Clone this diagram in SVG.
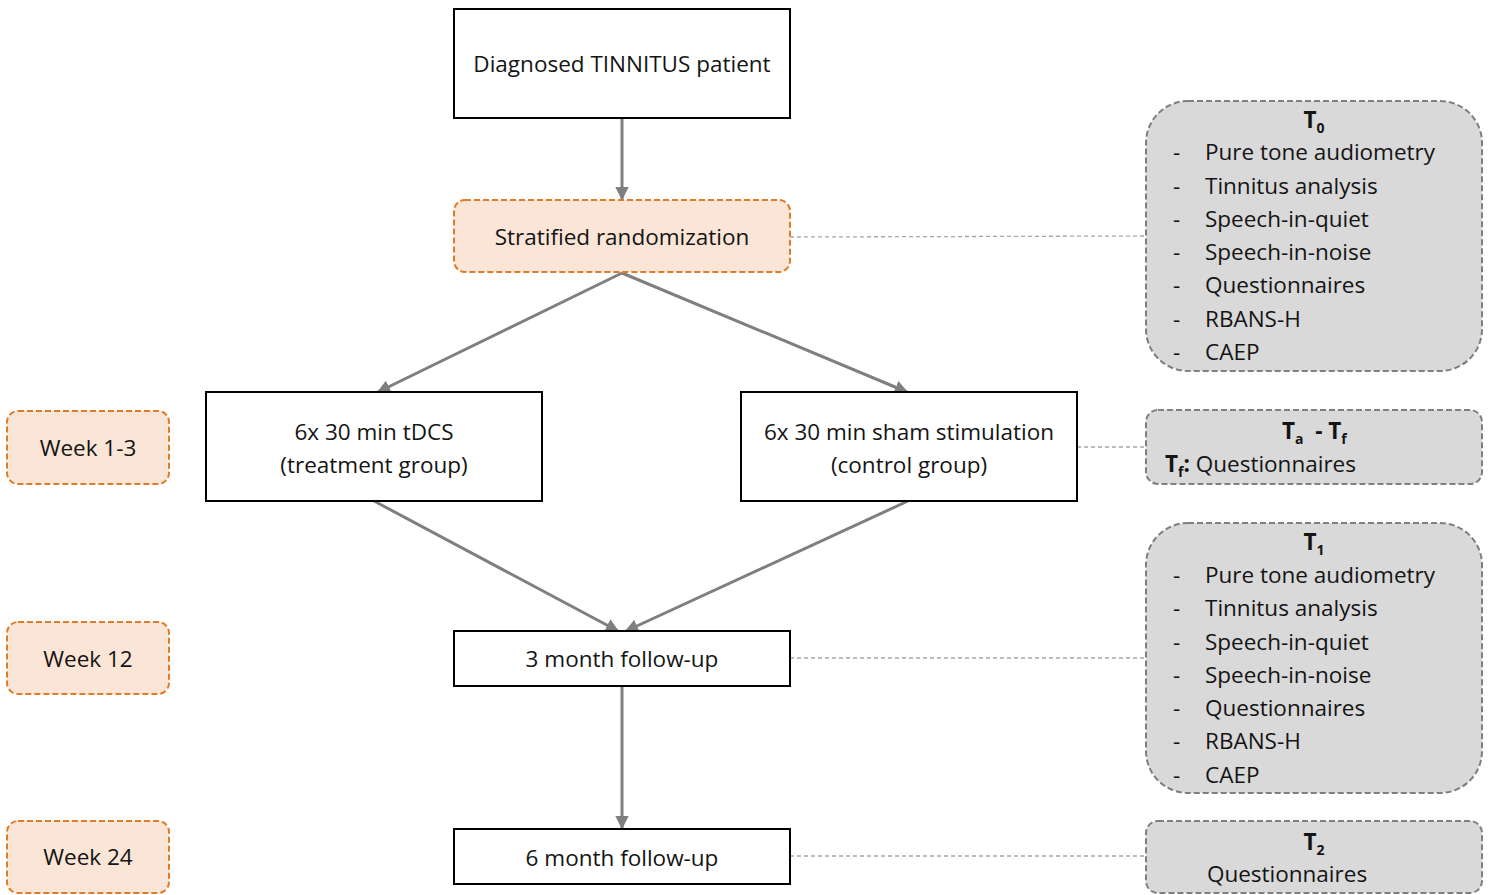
<svg xmlns="http://www.w3.org/2000/svg" width="1494" height="895" viewBox="0 0 1494 895">
<style>
text{font-family:"Open Sans","Noto Sans","Liberation Sans",sans-serif;font-size:22.5px;fill:#141414}
.c{text-anchor:middle}
.b{font-weight:bold}
.box{fill:#fff;stroke:#000;stroke-width:2}
.org{fill:#fbe5d6;stroke:#e07b28;stroke-width:2;stroke-dasharray:6 3}
.gry{fill:#d9d9d9;stroke:#7f7f7f;stroke-width:2;stroke-dasharray:6 3}
.ln{stroke:#7f7f7f;stroke-width:3;fill:none}
.dot{stroke:#a6a6a6;stroke-width:1.3;stroke-dasharray:4 3;fill:none}
</style>
<defs>
<marker id="ah" viewBox="0 0 10 10" refX="9" refY="5" markerWidth="4.5" markerHeight="4.5" orient="auto" markerUnits="strokeWidth">
<path d="M0,0 L10,5 L0,10 z" fill="#7f7f7f"/>
</marker>
</defs>
<g id="connectors">
<line class="ln" x1="622" y1="118" x2="622" y2="199" marker-end="url(#ah)"/>
<line class="ln" x1="622" y1="273" x2="378" y2="392" marker-end="url(#ah)"/>
<line class="ln" x1="622" y1="273" x2="907" y2="392" marker-end="url(#ah)"/>
<line class="ln" x1="374" y1="501" x2="618" y2="631" marker-end="url(#ah)"/>
<line class="ln" x1="908" y1="501" x2="626" y2="631" marker-end="url(#ah)"/>
<line class="ln" x1="622" y1="686" x2="622" y2="828" marker-end="url(#ah)"/>
<line class="dot" x1="790" y1="237" x2="1146" y2="236"/>
<line class="dot" x1="1077" y1="447" x2="1146" y2="447"/>
<line class="dot" x1="790" y1="658" x2="1146" y2="658"/>
<line class="dot" x1="790" y1="856" x2="1146" y2="856"/>
</g>
<g id="diagnosed"><rect class="box" x="454" y="9" width="336" height="109"/><text class="c" x="622" y="72">Diagnosed TINNITUS patient</text></g>
<g id="randomization"><rect class="org" x="454" y="200" width="336" height="72" rx="11"/><text class="c" x="622" y="245">Stratified randomization</text></g>
<g id="tdcs"><rect class="box" x="206" y="392" width="336" height="109"/><text class="c" x="374" y="440">6x 30 min tDCS</text><text class="c" x="374" y="473">(treatment group)</text></g>
<g id="sham"><rect class="box" x="741" y="392" width="336" height="109"/><text class="c" x="909" y="440">6x 30 min sham stimulation</text><text class="c" x="909" y="473">(control group)</text></g>
<g id="fu3"><rect class="box" x="454" y="631" width="336" height="55"/><text class="c" x="622" y="667">3 month follow-up</text></g>
<g id="fu6"><rect class="box" x="454" y="829" width="336" height="55"/><text class="c" x="622" y="866">6 month follow-up</text></g>
<g id="week13"><rect class="org" x="7" y="411" width="162" height="73" rx="11"/><text class="c" x="88" y="456">Week 1-3</text></g>
<g id="week12"><rect class="org" x="7" y="622" width="162" height="72" rx="11"/><text class="c" x="88" y="667">Week 12</text></g>
<g id="week24"><rect class="org" x="7" y="821" width="162" height="72" rx="11"/><text class="c" x="88" y="865">Week 24</text></g>
<g id="t0"><rect class="gry" x="1146" y="101" width="336" height="270" rx="42"/>
<text class="c b" x="1314" y="128">T<tspan font-size="14" dy="5">0</tspan></text>
<text x="1173" y="160">-</text><text x="1205" y="160">Pure tone audiometry</text>
<text x="1173" y="194">-</text><text x="1205" y="194">Tinnitus analysis</text>
<text x="1173" y="227">-</text><text x="1205" y="227">Speech-in-quiet</text>
<text x="1173" y="260">-</text><text x="1205" y="260">Speech-in-noise</text>
<text x="1173" y="293">-</text><text x="1205" y="293">Questionnaires</text>
<text x="1173" y="327">-</text><text x="1205" y="327">RBANS-H</text>
<text x="1173" y="360">-</text><text x="1205" y="360">CAEP</text>
</g>
<g id="tatf"><rect class="gry" x="1146" y="410" width="336" height="74" rx="12"/>
<text class="b" x="1282" y="439" xml:space="preserve">T<tspan font-size="14" dy="5">a</tspan><tspan dy="-5">  - T</tspan><tspan font-size="14" dy="5">f</tspan></text>
<text x="1165" y="472"><tspan font-weight="bold">T</tspan><tspan font-weight="bold" font-size="14" dy="5">f</tspan><tspan font-weight="bold" dy="-5">:</tspan> Questionnaires</text>
</g>
<g id="t1"><rect class="gry" x="1146" y="523" width="336" height="270" rx="42"/>
<text class="c b" x="1314" y="550">T<tspan font-size="14" dy="5">1</tspan></text>
<text x="1173" y="583">-</text><text x="1205" y="583">Pure tone audiometry</text>
<text x="1173" y="616">-</text><text x="1205" y="616">Tinnitus analysis</text>
<text x="1173" y="650">-</text><text x="1205" y="650">Speech-in-quiet</text>
<text x="1173" y="683">-</text><text x="1205" y="683">Speech-in-noise</text>
<text x="1173" y="716">-</text><text x="1205" y="716">Questionnaires</text>
<text x="1173" y="749">-</text><text x="1205" y="749">RBANS-H</text>
<text x="1173" y="783">-</text><text x="1205" y="783">CAEP</text>
</g>
<g id="t2"><rect class="gry" x="1146" y="821" width="336" height="72" rx="12"/>
<text class="c b" x="1314" y="850">T<tspan font-size="14" dy="5">2</tspan></text>
<text class="c" x="1287" y="882">Questionnaires</text>
</g>
</svg>
